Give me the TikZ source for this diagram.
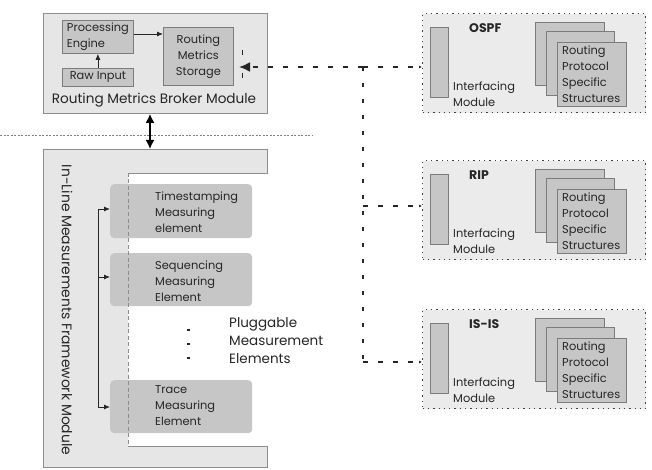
\documentclass[tikz,border=0pt]{standalone}
\usepackage{fontspec}
\setmainfont{Poppins}
\usetikzlibrary{arrows.meta}
\definecolor{modfill}{HTML}{E6E6E6}
\definecolor{modline}{HTML}{8E8E8E}
\definecolor{boxfill}{HTML}{C6C6C6}
\definecolor{boxline}{HTML}{7C7C7C}
\definecolor{protfill}{HTML}{EBEBEB}
\definecolor{txt}{HTML}{262626}
\tikzset{
  base/.style={font=\fontsize{11.4}{16}\selectfont, text=txt},
  modbox/.style={draw=modline, fill=modfill, line width=0.8pt, anchor=north west, inner sep=0pt},
  inbox/.style={draw=boxline, fill=boxfill, line width=0.8pt, anchor=north west, inner sep=0pt, base},
  elembox/.style={fill=boxfill, rounded corners=4pt, anchor=north west, inner sep=0pt},
  protbox/.style={draw=black!75, fill=protfill, line width=1.3pt, dash pattern=on 1.3pt off 4pt, anchor=north west, inner sep=0pt},
  txtnode/.style={base, align=left, anchor=west, inner sep=0pt},
  arr/.style={-{Latex[length=6pt,width=5pt]}, line width=0.8pt, black!85},
  conn/.style={line width=2pt, dash pattern=on 5pt off 10pt, black!85},
  vconn/.style={line width=2pt, dash pattern=on 4pt off 12pt, black!85},
}
\begin{document}
\begin{tikzpicture}[x=1pt,y=-1pt]
\useasboundingbox (0,0) rectangle (652,470);

% ---------- Broker module ----------
\node[modbox, minimum width=224pt, minimum height=100pt] (broker) at (43,13) {};
\node[inbox, minimum width=71pt, minimum height=33pt, align=left] (pe) at (62,20) {Processing\\Engine};
\node[inbox, minimum width=71pt, minimum height=18pt] (raw) at (62,68) {Raw Input};
\node[inbox, minimum width=70pt, minimum height=58pt, align=center] (rms) at (163,27) {Routing\\Metrics\\Storage};
\node[base, font=\fontsize{13.6}{14}\selectfont] (brokerlbl) at (154,100) {Routing Metrics Broker Module};
\draw[arr] (raw.north) -- (pe.south);
\draw[arr] (pe.east |- 0,34) -- (rms.west |- 0,34);
\draw[line width=1pt, black!85, dash pattern=on 5pt off 18pt] (242,50) -- (242,80);
\coordinate (bkin) at (239,67);

% ---------- separator ----------
\draw[gray, line width=0.5pt, dash pattern=on 2pt off 1.5pt] (0,135) -- (312,135);

% ---------- Framework module ----------
\draw[draw=modline, fill=modfill, line width=0.8pt]
  (128,173) -- (267,173) -- (267,149) -- (43,149) -- (43,467) -- (267,467) -- (267,446) -- (128,446);
\fill[modfill] (128,173) rectangle (127,446);
\coordinate (fwtop) at (150,149);
\node[base, font=\fontsize{13.9}{14}\selectfont, rotate=-90] (fwlbl) at (67,310) {In-Line Measurements Framework Module};

\node[elembox, minimum width=142pt, minimum height=54pt] (ts) at (110,184) {};
\node[elembox, minimum width=142pt, minimum height=53pt] (seq) at (110,253) {};
\node[elembox, minimum width=142pt, minimum height=53pt] (tr) at (110,380) {};
\node[txtnode] (tst) at (155,212) {Timestamping\\Measuring\\element};
\node[txtnode] (seqt) at (155,281) {Sequencing\\Measuring\\Element};
\node[txtnode] (trt) at (155,406) {Trace\\Measuring\\Element};
\draw[modline, line width=0.8pt, dash pattern=on 4pt off 2.5pt] (128,173) -- (128,446);

\coordinate (b1) at (98,209);
\coordinate (b2) at (98,277);
\coordinate (b3) at (98,407);
\draw[line width=0.8pt, black!85] (b1) -- (b3);
\draw[arr] (b1) -- (b1 -| ts.west);
\draw[arr] (b2) -- (b2 -| seq.west);
\draw[arr] (b3) -- (b3 -| tr.west);

\foreach \yy in {330,344,358} \fill[black!85] (187,\yy-1) rectangle (189.5,\yy+1);
\node[txtnode, font=\fontsize{13.5}{18}\selectfont] (plug) at (229,341) {Pluggable\\Measurement\\Elements};

\draw[{Latex[length=9pt,width=9pt]}-{Latex[length=9pt,width=9pt]}, line width=1.6pt] (broker.south -| fwtop) -- (fwtop);

% ---------- Protocol modules ----------
\foreach \t/\nm/\lbl in {13/ospf/OSPF, 160/rip/RIP, 309/isis/IS-IS}{
  \node[protbox, minimum width=223pt, minimum height=99pt] (\nm) at (422,\t) {};
  \node[inbox, minimum width=18pt, minimum height=70pt] (\nm-if) at (430,\t+14) {};
  \node[txtnode] (\nm-ift) at (453,\t+81.5) {Interfacing\\Module};
  \node[base, anchor=west, inner sep=0pt, font=\fontsize{12.5}{14}\selectfont\bfseries] (\nm-lbl) at (469,\t+15) {\lbl};
  \node[inbox, minimum width=69pt, minimum height=63pt] (\nm-s1) at (535,\t+9) {};
  \node[inbox, minimum width=68pt, minimum height=64pt] (\nm-s2) at (546,\t+18) {};
  \node[inbox, minimum width=69pt, minimum height=64pt] (\nm-s3) at (557,\t+29) {};
  \node[txtnode] (\nm-st) at (562,\t+61) {Routing\\Protocol\\Specific\\Structures};
}

% ---------- connectors ----------
\coordinate (j1) at (363,67);
\coordinate (j2) at (363,206);
\coordinate (j3) at (363,362);
\draw[conn, -{Latex[length=11pt,width=10pt]}] (j1) -- (bkin);
\draw[vconn] (j1) -- (j3);
\draw[conn, -{Latex[length=3pt,width=3pt]}] (j1) -- (j1 -| ospf.west);
\draw[conn, -{Latex[length=3pt,width=3pt]}] (j2) -- (j2 -| rip.west);
\draw[conn, -{Latex[length=3pt,width=3pt]}] (j3) -- (j3 -| isis.west);
\end{tikzpicture}
\end{document}
